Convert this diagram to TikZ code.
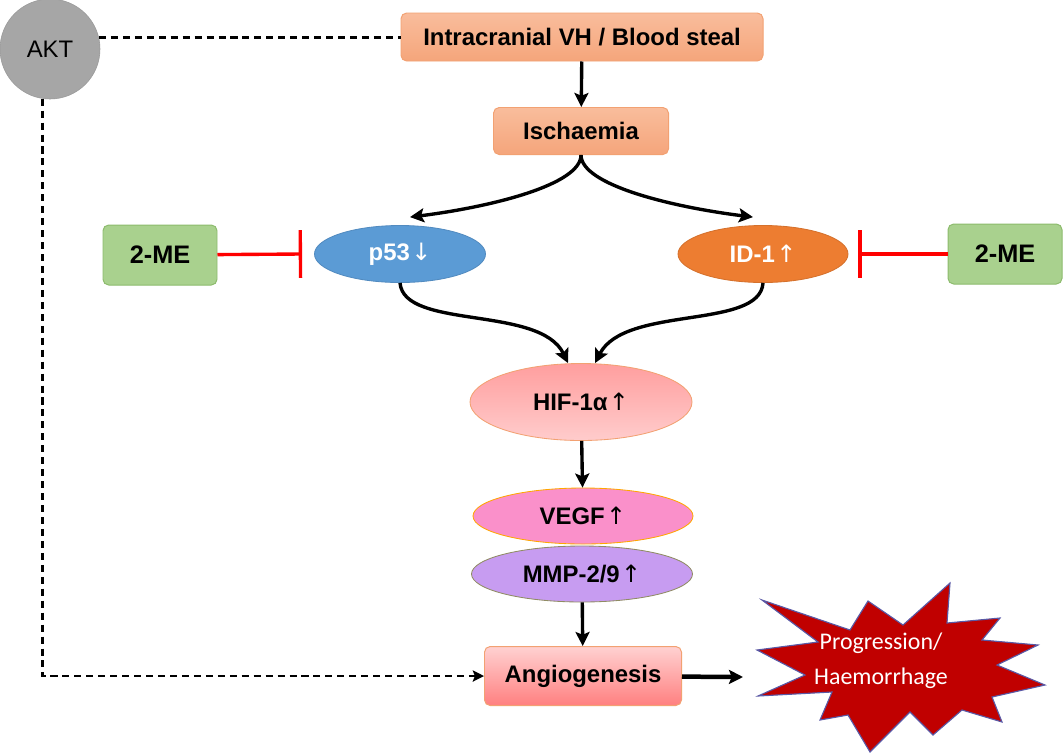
\documentclass[tikz,border=0pt]{standalone}
\usepackage{fontspec}
\setmainfont{Liberation Sans}
\newfontfamily\burstfont{Carlito}
\newfontfamily\arrowfont{DejaVu Sans}
\usetikzlibrary{arrows.meta}
\usetikzlibrary{shapes.geometric}
\usetikzlibrary{calc}
\newcommand{\pxu}{0.025cm}
\newcommand{\upar}{\kern1pt{\arrowfont\mdseries ↑}}
\newcommand{\downar}{\kern1pt{\arrowfont\mdseries ↓}}
\definecolor{salmonline}{HTML}{F2A172}
\definecolor{salmontop}{HTML}{F9BD9C}
\definecolor{salmonbot}{HTML}{F5A57B}
\definecolor{megreen}{HTML}{A9D18E}
\definecolor{megreenline}{HTML}{8CBB6C}
\definecolor{p53blue}{HTML}{5B9BD5}
\definecolor{idorange}{HTML}{ED7D31}
\definecolor{aktgray}{HTML}{A6A6A6}
\definecolor{vegfpink}{HTML}{FA90CA}
\definecolor{mmpviolet}{HTML}{C79CF1}
\definecolor{burstred}{HTML}{C00000}
\tikzset{arr/.style = {-{Stealth[length=10pt, width=10pt, inset=2pt]}, line width=2.4pt}}
\tikzset{dashline/.style = {line width=2pt, dash pattern=on 5pt off 3.5pt}}
\tikzset{dasharr/.style = {dashline, -{Stealth[length=8pt, width=8pt, inset=1.5pt]}}}
\tikzset{blocker/.style = {-{Bar[width=34pt]}, draw=red, line width=2.4pt}}
\tikzset{box/.style = {rectangle, rounded corners=4pt, draw=salmonline, line width=0.7pt,
                       inner sep=0, font=\bfseries\fontsize{17}{20}\selectfont}}
\tikzset{oval/.style = {ellipse, inner sep=0, line width=0.6pt,
                        font=\bfseries\fontsize{17}{20}\selectfont}}
\tikzset{mebox/.style = {box, fill=megreen, draw=megreenline,
                         minimum width=114*\pxu, minimum height=60*\pxu,
                         font=\bfseries\fontsize{18}{20}\selectfont}}

\begin{document}
\begin{tikzpicture}[x=\pxu, y=-\pxu]
      \useasboundingbox (0, 0) rectangle (1064, 752);

      \node [circle, fill=aktgray, draw=gray!80, minimum size=100*\pxu, inner sep=0,
             font=\fontsize{17}{20}\selectfont] (akt) at (50, 49) {AKT};

      \node [box, top color=salmontop, bottom color=salmonbot,
             minimum width=362*\pxu, minimum height=48*\pxu] (vh) at (582, 37)
             {Intracranial VH / Blood steal};
      \node [box, top color=salmontop, bottom color=salmonbot,
             minimum width=175*\pxu, minimum height=47*\pxu] (isch) at (581, 131) {Ischaemia};

      \node [mebox] (meL) at (160, 255) {2-ME};
      \node [mebox] (meR) at (1005, 254) {2-ME};

      \node [oval, fill=p53blue, draw=p53blue!90!black, text=white,
             minimum width=171*\pxu, minimum height=57*\pxu] (p53) at (400, 254) {p53\downar};
      \node [oval, fill=idorange, draw=idorange!90!black, text=white,
             minimum width=170*\pxu, minimum height=57*\pxu] (id1) at (763, 254) {ID-1\upar};

      \node [oval, top color=red!38, bottom color=red!20, draw=salmonline,
             minimum width=222*\pxu, minimum height=77*\pxu] (hif) at (581, 402) {HIF-1α\upar};
      \node [oval, fill=vegfpink, draw=orange!70!yellow,
             minimum width=220*\pxu, minimum height=56*\pxu] (vegf) at (583, 516) {VEGF\upar};
      \node [oval, fill=mmpviolet, draw=gray!70!olive,
             minimum width=221*\pxu, minimum height=56*\pxu] (mmp) at (582, 574) {MMP-2/9\upar};

      \node [box, top color=red!18, bottom color=red!50, draw=salmonline,
             minimum width=197*\pxu, minimum height=59*\pxu] (angio) at (583, 676) {Angiogenesis};

      % burst
      \draw [fill=burstred, draw=blue!30!gray, line width=0.8pt]
            (757, 650) -- (818, 642) -- (762, 600) -- (850, 630) -- (868, 601)
            -- (903, 625) -- (950, 583) -- (947, 623) -- (1000, 618) -- (982, 640)
            -- (1038, 645) -- (997, 665) -- (1045, 685) -- (992, 697) -- (1002, 722)
            -- (962, 710) -- (933, 735) -- (910, 712) -- (870, 752) -- (848, 715)
            -- (820, 720) -- (832, 692) -- (758, 696) -- (805, 675) -- cycle;
      \node [text=white, align=center, inner sep=0,
             font=\burstfont\fontsize{17}{25}\selectfont] (burst) at (881, 661)
             {Progression/\\Haemorrhage};
      \coordinate (burstin) at (743, 677);

      \draw [arr] (vh) -- (isch);
      \draw [arr] (isch.south) .. controls (581, 185) and (490, 207) .. ($(p53.north)+(10, -8)$);
      \draw [arr] (isch.south) .. controls (581, 185) and (672, 207) .. ($(id1.north)+(-10, -8)$);
      \draw [arr] (p53.south) .. controls (404, 330) and (540, 305) .. ($(hif.north)+(-13, 0)$);
      \draw [arr] (id1.south) .. controls (760, 330) and (625, 305) .. ($(hif.north)+(14, 0)$);
      \draw [arr] (hif) -- (vegf);
      \draw [arr] (mmp) -- (angio);
      \draw [arr, line width=3.2pt] (angio) -- (burstin);

      \draw [blocker] (meL) -- ($(p53.west)+(-12, 0)$);
      \draw [blocker] (meR) -- ($(id1.east)+(10, 0)$);

      \draw [dashline] (akt.13) -- (akt.13 -| vh.west);
      \draw [dasharr] (akt.261) |- (angio.west);
    \end{tikzpicture}
\end{document}
